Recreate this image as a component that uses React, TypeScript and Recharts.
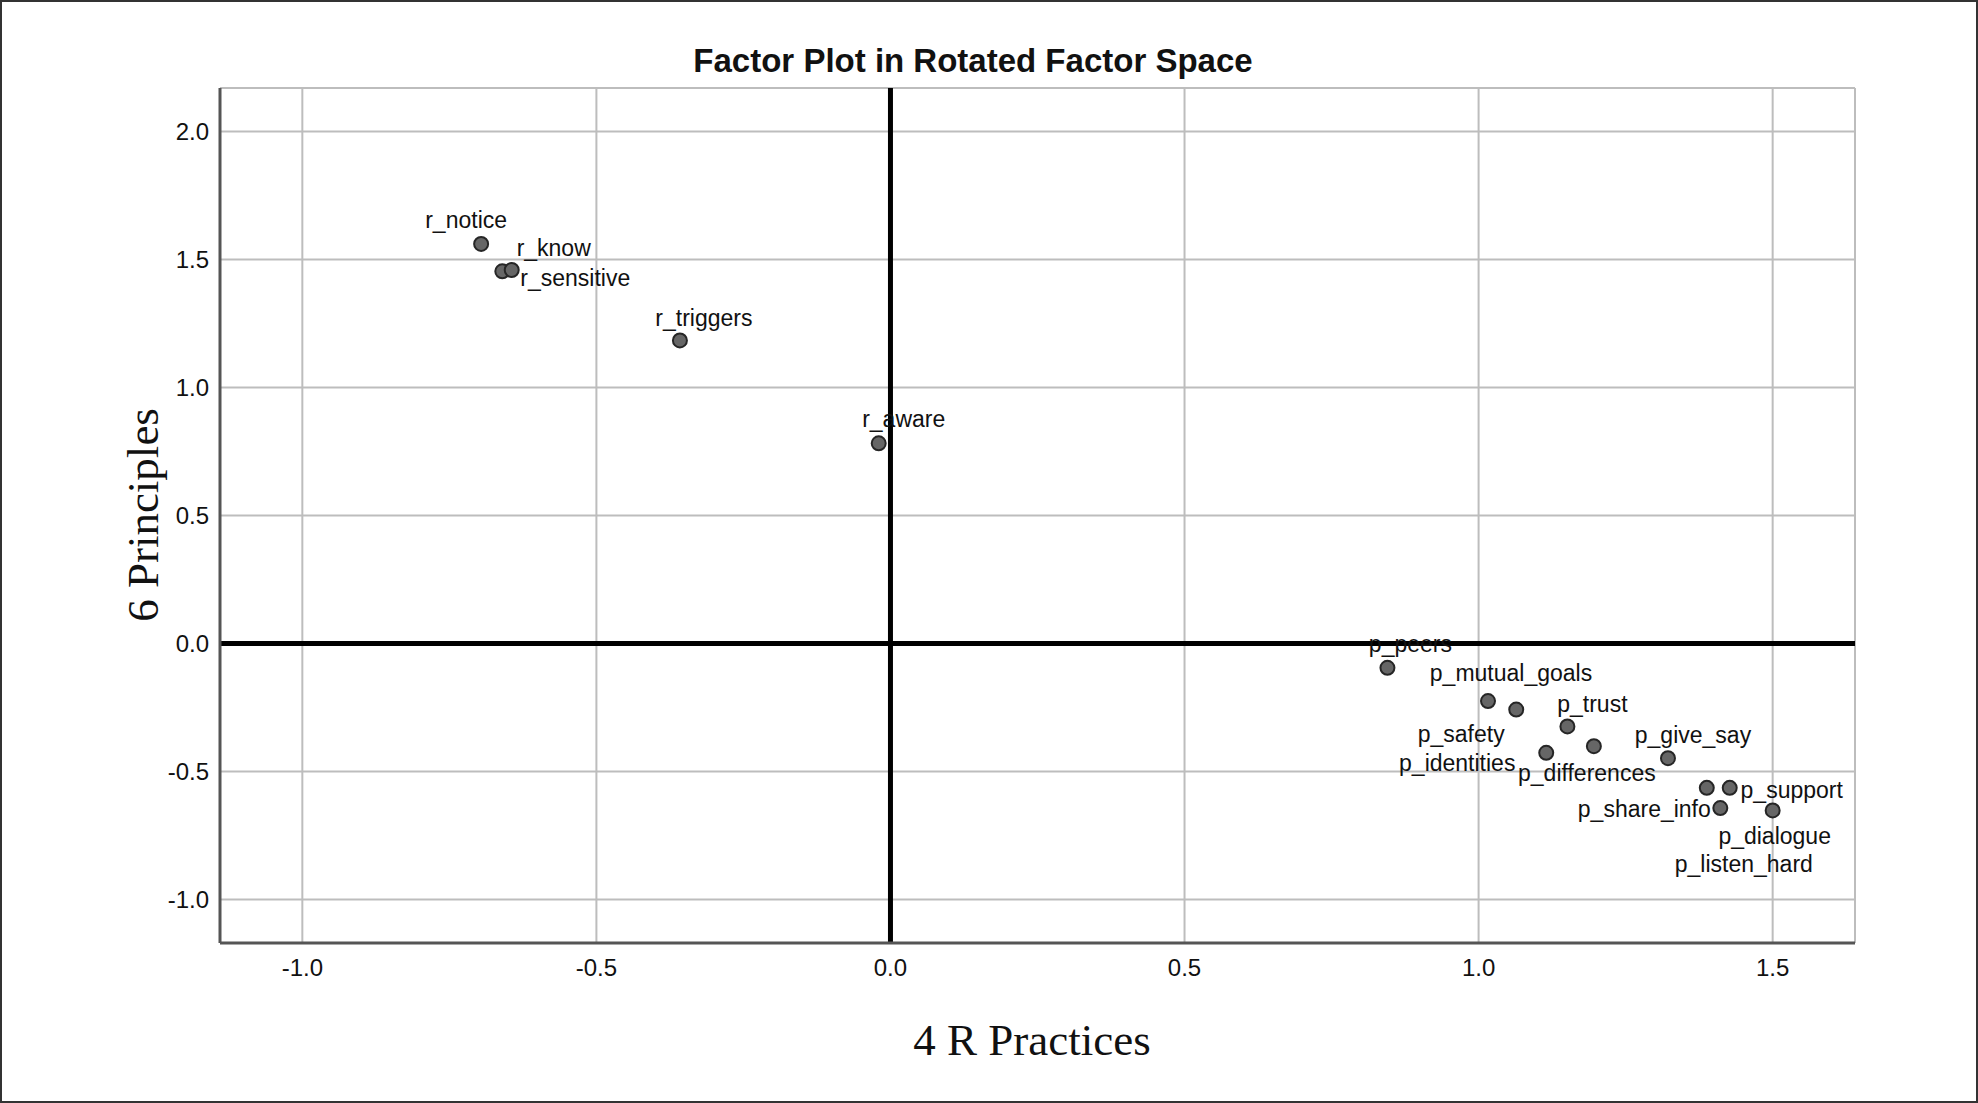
import React from 'react';
import { ScatterChart, Scatter, XAxis, YAxis, CartesianGrid, ReferenceLine } from 'recharts';

// loadings
const itemNames = [
  'r_notice', 'r_sensitive', 'r_know', 'r_triggers', 'r_aware',
  'p_peers', 'p_mutual_goals', 'p_safety', 'p_trust', 'p_differences', 'p_identities',
  'p_give_say', 'p_listen_hard', 'p_support', 'p_share_info', 'p_dialogue',
];
const practiceLoadings = [
  -0.696, -0.66, -0.644, -0.358, -0.02,
  0.845, 1.016, 1.064, 1.151, 1.196, 1.115,
  1.322, 1.388, 1.427, 1.411, 1.5,
];
const principleLoadings = [
  1.561, 1.454, 1.459, 1.184, 0.782,
  -0.095, -0.225, -0.258, -0.324, -0.401, -0.427,
  -0.448, -0.564, -0.564, -0.643, -0.652,
];
const xTicks = [-1.0, -0.5, 0, 0.5, 1.0, 1.5];
const yTicks = [-1.0, -0.5, 0, 0.5, 1.0, 1.5, 2.0];

const points = itemNames.map((name, i) => ({
  name,
  x: practiceLoadings[i],
  y: principleLoadings[i],
}));

// where each point label sits relative to its marker (px)
const labelPlacement: Record<string, [number, number]> = {
  r_notice: [-15, -24],
  r_know: [42, -22],
  r_sensitive: [73, 6],
  r_triggers: [24, -23],
  r_aware: [25, -25],
  p_peers: [23, -24],
  p_mutual_goals: [23, -28],
  p_trust: [25, -23],
  p_safety: [-55, 24],
  p_identities: [-89, 10],
  p_differences: [-7, 27],
  p_give_say: [25, -23],
  p_support: [62, 2],
  p_share_info: [-76, 1],
  p_dialogue: [2, 25],
  p_listen_hard: [37, 76],
};

const W = 1978;
const H = 1103;
const sans = '"Liberation Sans", Arial, sans-serif';
const serif = '"Liberation Serif", "Times New Roman", serif';

const fmt = (v: number) => v.toFixed(1);

function PointLabel(props: any) {
  const { cx, cy, payload } = props;
  const [dx, dy] = labelPlacement[payload.name] || [0, -24];
  return (
    <text x={cx + dx} y={cy + dy} dy="0.36em" textAnchor="middle" fontSize={23} fontFamily={sans} fill="#111">
      {payload.name}
    </text>
  );
}

function PointDot(props: any) {
  const { cx, cy } = props;
  return <circle cx={cx} cy={cy} r={7} fill="#666" stroke="#262626" strokeWidth={2} />;
}

export default function App() {
  return (
    <div
      style={{
        position: 'relative',
        width: W,
        height: H,
        boxSizing: 'border-box',
        border: '2px solid #333',
        background: '#fff',
      }}
    >
      <style>{'body{margin:0}'}</style>
      <div
        style={{
          position: 'absolute',
          left: 0,
          width: 1942,
          top: 40,
          textAlign: 'center',
          fontFamily: sans,
          fontWeight: 'bold',
          fontSize: 33,
          color: '#111',
        }}
      >
        Factor Plot in Rotated Factor Space
      </div>
      <div style={{ position: 'absolute', top: -2, left: -2 }}>
        <ScatterChart width={W} height={H} margin={{ top: 88, right: 123, bottom: 0, left: 0 }}>
          <CartesianGrid stroke="#bdbdbd" strokeWidth={2} />
          <XAxis
            type="number"
            dataKey="x"
            domain={[-1.14, 1.64]}
            ticks={xTicks}
            tickFormatter={fmt}
            allowDataOverflow
            height={160}
            tickLine={false}
            tickSize={0}
            tickMargin={16}
            axisLine={{ stroke: '#555', strokeWidth: 3 }}
            tick={{ fontSize: 24, fontFamily: sans, fill: '#111' }}
          />
          <YAxis
            type="number"
            dataKey="y"
            domain={[-1.17, 2.17]}
            ticks={yTicks}
            tickFormatter={fmt}
            allowDataOverflow
            width={220}
            tickLine={false}
            tickSize={0}
            tickMargin={11}
            axisLine={{ stroke: '#555', strokeWidth: 3 }}
            tick={{ fontSize: 24, fontFamily: sans, fill: '#111' }}
          />
          <Scatter data={points} shape={PointLabel} isAnimationActive={false} />
          <Scatter data={points} shape={PointDot} isAnimationActive={false} />
          <ReferenceLine x={0} stroke="#000" strokeWidth={5} />
          <ReferenceLine y={0} stroke="#000" strokeWidth={5} />
        </ScatterChart>
      </div>
      <div
        style={{
          position: 'absolute',
          left: 0,
          width: 2060,
          top: 1012,
          textAlign: 'center',
          fontFamily: serif,
          fontSize: 45,
          color: '#111',
        }}
      >
        4 R Practices
      </div>
      <div
        style={{
          position: 'absolute',
          left: 141,
          top: 513,
          transform: 'translate(-50%, -50%) rotate(-90deg)',
          whiteSpace: 'nowrap',
          fontFamily: serif,
          fontSize: 45,
          color: '#111',
        }}
      >
        6 Principles
      </div>
    </div>
  );
}
